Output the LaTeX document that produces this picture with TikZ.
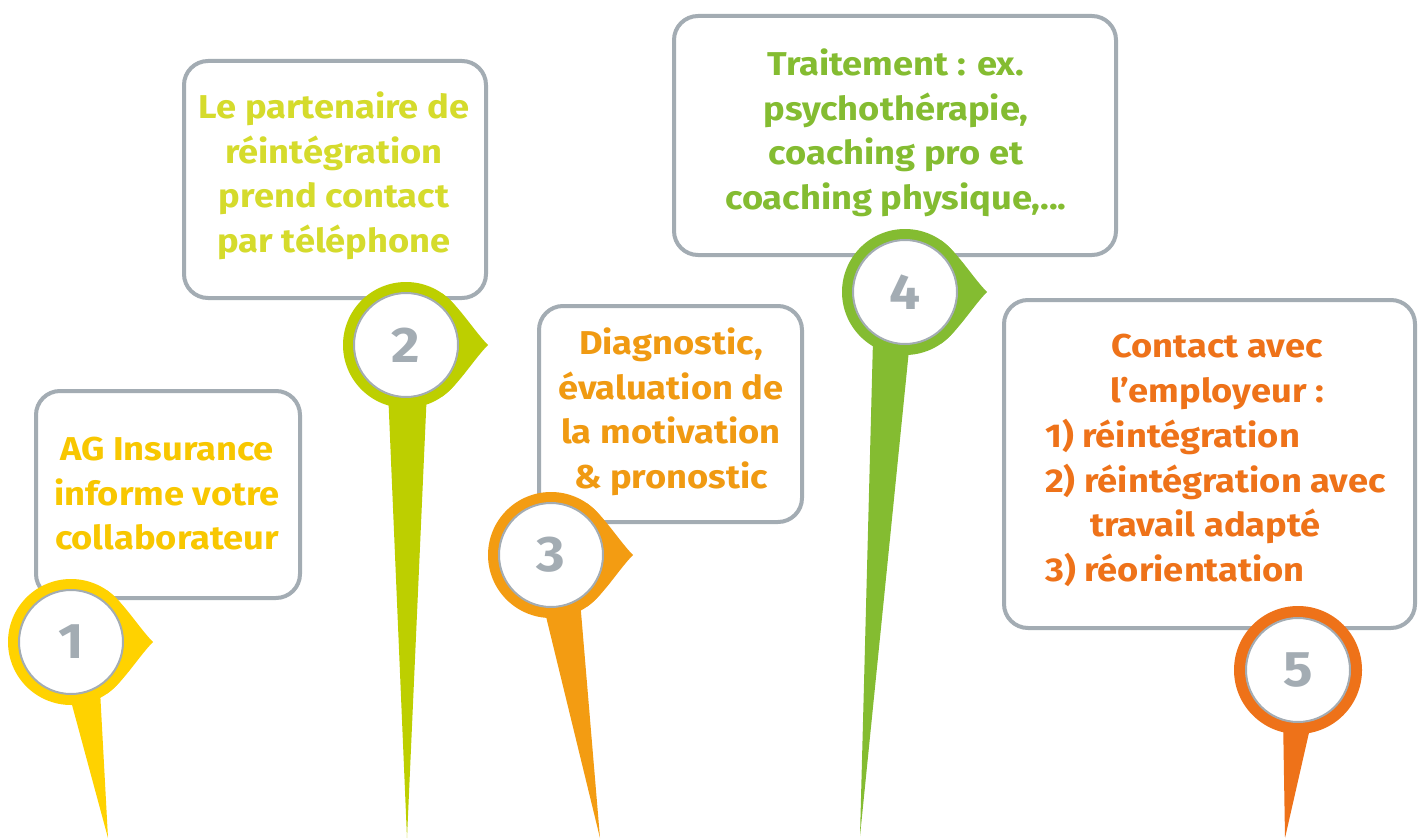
\documentclass[tikz,border=0pt]{standalone}
\usepackage{fontspec}
\setmainfont[FakeStretch=1.1]{Fira Sans}
\usetikzlibrary{calc}
\definecolor{bordergrey}{HTML}{A3ACB3}
\definecolor{pinA}{HTML}{FFD200}
\definecolor{txtA}{HTML}{F8C700}
\definecolor{pinB}{HTML}{BDCF00}
\definecolor{txtB}{HTML}{D5DB2C}
\definecolor{pinC}{HTML}{F39C12}
\definecolor{txtC}{HTML}{F09A12}
\definecolor{pinD}{HTML}{84BC31}
\definecolor{txtD}{HTML}{84BC31}
\definecolor{pinE}{HTML}{EE7219}
\definecolor{txtE}{HTML}{EE7219}
\tikzset{
  infobox/.style={draw=bordergrey, line width=4pt, rounded corners=24pt, fill=white},
  boxtext/.style={font=\bfseries\fontsize{33}{44.5}\selectfont, align=center, inner sep=0pt},
  numtext/.style={font=\bfseries\fontsize{50}{50}\selectfont, text=bordergrey, inner sep=0pt},
  innerdisc/.style={fill=white, draw=bordergrey, line width=2pt},
}
% #1 centre name, #2 colour
\newcommand{\pinhead}[2]{%
  \fill[#2] (#1) circle (63);
  \fill[#2] ($(#1)+(36.1,-51.6)$) .. controls ($(#1)+(52.5,-40.1)$) and ($(#1)+(68,-14)$) .. ($(#1)+(82,0)$)
     .. controls ($(#1)+(68,14)$) and ($(#1)+(52.5,40.1)$) .. ($(#1)+(36.1,51.6)$) -- cycle;
}
\newcommand{\pindisc}[2]{%
  \draw[innerdisc] (#1) circle (52);
  \node[numtext] (n#1) at (#1) {#2};
}
\begin{document}
\begin{tikzpicture}[x=1pt,y=-1pt]
\useasboundingbox (0,0) rectangle (1426,840);
% boxes
\draw[infobox] (36,391) rectangle (300,598);
\draw[infobox] (184,61) rectangle (486,298);
\draw[infobox] (539,306) rectangle (802,522);
\draw[infobox] (674,16) rectangle (1116,255);
\draw[infobox] (1004,300) rectangle (1415,628);
% texts
\node[boxtext, text=txtA] (t1) at (167,494) {AG Insurance\\informe votre\\collaborateur};
\node[boxtext, text=txtB] (t2) at (334,176) {Le partenaire de\\réintégration\\prend contact\\par téléphone};
\node[boxtext, text=txtC] (t3) at (671,412) {Diagnostic,\\évaluation de\\la motivation\\\& pronostic};
\node[boxtext, text=txtD] (t4) at (896,133) {Traitement : ex.\\psychothérapie,\\coaching pro et\\coaching physique,...};
\node[boxtext, text=txtE] (t5a) at (1217,372) {Contact avec\\l’employeur :};
\node[boxtext, text=txtE, anchor=north west, align=left] (t5b) at (1045,419)
  {1) réintégration\\2) réintégration avec\\\hspace*{45pt}travail adapté\\3) réorientation};
% pins
\coordinate (p1) at (71,642);
\coordinate (p2) at (406,345);
\coordinate (p3) at (551,555);
\coordinate (p4) at (905,292);
\coordinate (p5) at (1298,670);
\coordinate (s1a) at (68,690); \coordinate (s1b) at (100,690); \coordinate (e1) at (108,838);
\coordinate (s2a) at (388,390); \coordinate (s2b) at (427,390); \coordinate (e2) at (407,838);
\coordinate (s3a) at (542,600); \coordinate (s3b) at (580,600); \coordinate (e3) at (600,838);
\coordinate (s4a) at (873,340); \coordinate (s4b) at (910,340); \coordinate (e4) at (860,836);
\coordinate (s5a) at (1283,715); \coordinate (s5b) at (1313,715); \coordinate (e5) at (1285,838);
\fill[pinA] (s1a) -- (s1b) -- (e1) -- cycle;
\fill[pinB] (s2a) -- (s2b) -- (e2) -- cycle;
\fill[pinC] (s3a) -- (s3b) -- (e3) -- cycle;
\fill[pinD] (s4a) -- (s4b) -- (e4) -- cycle;
\fill[pinE] (s5a) -- (s5b) -- (e5) -- cycle;
\pinhead{p1}{pinA}
\pinhead{p2}{pinB}
\pinhead{p3}{pinC}
\pinhead{p4}{pinD}
\fill[pinE] (p5) circle (64);
\pindisc{p1}{1}
\pindisc{p2}{2}
\pindisc{p3}{3}
\pindisc{p4}{4}
\pindisc{p5}{5}
\end{tikzpicture}
\end{document}
